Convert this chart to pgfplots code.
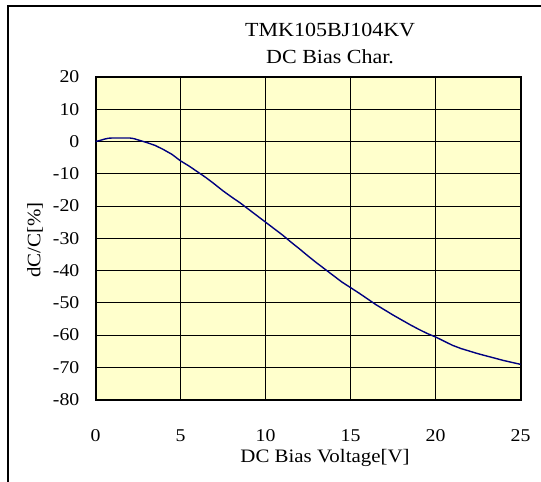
\documentclass[border=0pt]{standalone}
\usepackage{fontspec}
\setmainfont{Liberation Serif}[FakeStretch=1.1]
\usepackage{pgfplots}
\pgfplotsset{compat=1.18}
\definecolor{plotbg}{HTML}{FFFFCC}
\definecolor{curve}{HTML}{000080}
\begin{document}
\begin{tikzpicture}
\useasboundingbox (0pt,0pt) rectangle (541pt,482pt);
% outer chart frame, cut off at right and bottom as in the reference
\begin{scope}
\clip (0pt,0pt) rectangle (541pt,482pt);
\draw[line width=2pt] (8pt,-10pt) -- (8pt,476pt) -- (560pt,476pt);
\end{scope}
\begin{axis}[
  at={(95.5pt,82.5pt)}, anchor=south west,
  scale only axis, width=425pt, height=322.5pt,
  xmin=0, xmax=25, ymin=-80, ymax=20,
  xtick={0,5,...,25}, ytick={-80,-70,...,20},
  xticklabels={0,5,10,15,20,25},
  yticklabels={-80,-70,-60,-50,-40,-30,-20,-10,0,10,20},
  grid=major, grid style={black, line width=0.8pt},
  axis line style={line width=2pt},
  axis background/.style={fill=plotbg},
  tick pos=left, tick align=inside, major tick length=6pt,
  tick style={black, line width=0.8pt},
  ticklabel style={font=\fontsize{18}{21}\selectfont, inner sep=0pt},
  xticklabel style={anchor=center, yshift=-36pt},
  yticklabel style={anchor=east, xshift=-16pt},
  title={TMK105BJ104KV\\DC Bias Char.},
  title style={at={(axis description cs:0.552,1)}, anchor=south, yshift=7pt,
    align=center, inner sep=0pt, font=\fontsize{20}{26.6}\selectfont},
  xlabel={DC Bias Voltage[V]},
  xlabel style={at={(axis description cs:0.54,-0.196)}, anchor=base,
    inner sep=0pt, font=\fontsize{19}{22}\selectfont},
  ylabel={dC/C[\%]},
  ylabel style={at={(axis description cs:-0.142,0.495)}, anchor=center,
    inner sep=0pt, font=\fontsize{19}{22}\selectfont},
]
\addplot[curve, line width=1.4pt] coordinates {
(0,0) (0.25,0.3) (0.5,0.7) (0.75,1.0) (1,1.1) (1.5,1.1) (2,1.1) (2.25,0.9)
(2.5,0.5) (3,-0.3) (3.5,-1.2) (4,-2.5) (4.5,-4.0) (5,-6.0) (5.5,-7.6)
(6,-9.4) (6.5,-11.2) (7,-13.2) (7.5,-15.3) (8,-17.2) (8.5,-19.0) (9,-21.0)
(9.5,-23.0) (10,-25.0) (10.5,-27.0) (11,-29.0) (11.5,-31.2) (12,-33.3)
(12.5,-35.5) (13,-37.6) (13.5,-39.6) (14,-41.6) (14.5,-43.6) (15,-45.3)
(15.5,-47.0) (16,-48.8) (16.5,-50.6) (17,-52.2) (17.5,-53.8) (18,-55.3)
(18.5,-56.8) (19,-58.2) (19.5,-59.5) (20,-60.6) (20.5,-61.9) (21,-63.2)
(21.5,-64.2) (22,-65.0) (22.5,-65.8) (23,-66.5) (23.5,-67.2) (24,-67.9)
(24.5,-68.5) (25,-69.1)
};
\end{axis}
\end{tikzpicture}
\end{document}
